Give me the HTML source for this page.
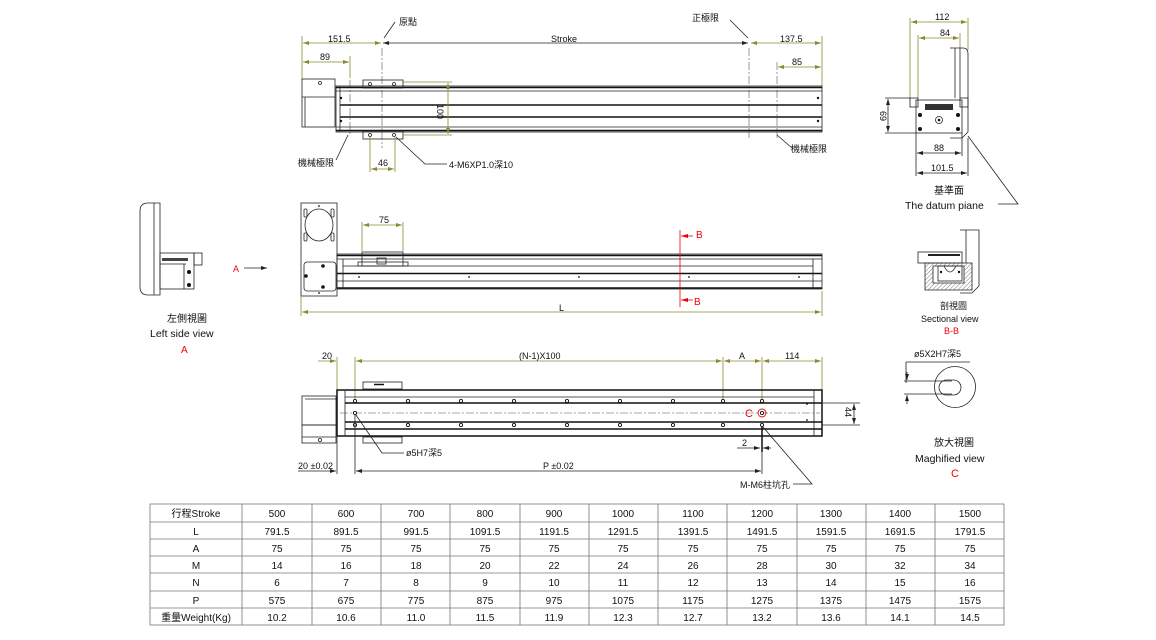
<!DOCTYPE html>
<html><head><meta charset="utf-8"><style>
html,body{margin:0;padding:0;background:#fff;}
svg{display:block;}
text{font-family:"Liberation Sans","Noto Sans CJK TC",sans-serif;font-size:9px;fill:#111;}
.d{stroke:#8a8a30;stroke-width:0.8;fill:none;}
.k{stroke:#222;stroke-width:0.8;fill:none;}
.kb{stroke:#111;stroke-width:1.5;fill:none;}
.c{stroke:#555;stroke-width:0.6;fill:none;stroke-dasharray:8 2 2 2;}
.r{fill:#e00;}
td{border:1px solid #777;}
</style></head><body>
<svg width="1156" height="640" viewBox="0 0 1156 640" xmlns="http://www.w3.org/2000/svg">
<defs>
<marker id="a" markerWidth="6" markerHeight="6" refX="6" refY="3" orient="auto-start-reverse" markerUnits="userSpaceOnUse"><path d="M0,1 L6,3 L0,5z" fill="#8a8a30"/></marker>
<marker id="ab" markerWidth="6" markerHeight="6" refX="6" refY="3" orient="auto-start-reverse" markerUnits="userSpaceOnUse"><path d="M0,1 L6,3 L0,5z" fill="#222"/></marker>
<marker id="ar" markerWidth="7" markerHeight="6" refX="7" refY="3" orient="auto" markerUnits="userSpaceOnUse"><path d="M0,1 L7,3 L0,5z" fill="#e00"/></marker>
<pattern id="h" width="3" height="3" patternUnits="userSpaceOnUse" patternTransform="rotate(45)"><line x1="0" y1="0" x2="0" y2="3" stroke="#444" stroke-width="0.7"/></pattern>
</defs>

<!-- ===== TOP VIEW ===== -->
<g>
<line class="d" x1="302" y1="36" x2="302" y2="80"/>
<line class="d" x1="822" y1="36" x2="822" y2="86"/>
<line class="d" x1="303" y1="43" x2="381" y2="43" marker-start="url(#a)" marker-end="url(#a)"/>
<line class="k" x1="383" y1="43" x2="748" y2="43" marker-start="url(#ab)" marker-end="url(#ab)"/>
<line class="d" x1="751" y1="43" x2="821" y2="43" marker-start="url(#a)" marker-end="url(#a)"/>
<text x="328" y="42">151.5</text><text x="551" y="42">Stroke</text><text x="780" y="42">137.5</text>
<line class="k" x1="384" y1="38" x2="395" y2="22"/><text x="399" y="25">原點</text>
<line class="k" x1="748" y1="38" x2="730" y2="20"/><text x="692" y="21">正極限</text>
<line class="d" x1="303" y1="62" x2="349" y2="62" marker-start="url(#a)" marker-end="url(#a)"/><text x="320" y="60">89</text>
<line class="d" x1="350" y1="56" x2="350" y2="78"/>
<line class="d" x1="778" y1="67" x2="821" y2="67" marker-start="url(#a)" marker-end="url(#a)"/><text x="792" y="65">85</text>
<line class="c" x1="382" y1="48" x2="382" y2="148"/>
<line class="c" x1="350" y1="80" x2="350" y2="135"/>
<line class="c" x1="749" y1="48" x2="749" y2="138"/>
<line class="c" x1="777" y1="62" x2="777" y2="138"/>
<!-- motor -->
<rect class="k" x="302" y="79" width="33" height="48"/>
<line class="k" x1="302" y1="97" x2="335" y2="97"/>
<line class="k" x1="305" y1="97" x2="305" y2="127"/>
<circle class="k" cx="320" cy="83" r="1.5"/>
<!-- rail -->
<rect class="k" x="336" y="86" width="486" height="46"/>
<line class="kb" x1="336" y1="87.5" x2="822" y2="87.5"/>
<line class="k" x1="336" y1="91" x2="822" y2="91"/>
<line class="kb" x1="340" y1="105" x2="822" y2="105"/>
<line class="kb" x1="340" y1="117" x2="822" y2="117"/>
<line class="k" x1="336" y1="127" x2="822" y2="127"/>
<line class="kb" x1="336" y1="130.5" x2="822" y2="130.5"/>
<line class="k" x1="340" y1="86" x2="340" y2="132"/>
<circle cx="341" cy="98" r="1.2" fill="#111"/><circle cx="341" cy="121" r="1.2" fill="#111"/>
<circle cx="818" cy="98" r="1.2" fill="#111"/><circle cx="818" cy="121" r="1.2" fill="#111"/>
<!-- carriage -->
<rect class="k" x="363" y="80" width="40" height="8"/>
<rect class="k" x="363" y="131" width="40" height="8"/>
<circle class="k" cx="370" cy="84" r="1.5"/><circle class="k" cx="394" cy="84" r="1.5"/>
<circle class="k" cx="370" cy="135" r="1.5"/><circle class="k" cx="394" cy="135" r="1.5"/>
<line class="d" x1="403" y1="82" x2="452" y2="82"/><line class="d" x1="403" y1="135" x2="452" y2="135"/>
<line class="d" x1="448" y1="83" x2="448" y2="134" marker-start="url(#a)" marker-end="url(#a)"/>
<text x="0" y="0" transform="translate(437,104) rotate(90)">100</text>
<line class="d" x1="370" y1="137" x2="370" y2="172"/><line class="d" x1="395" y1="137" x2="395" y2="172"/>
<line class="d" x1="371" y1="169" x2="394" y2="169" marker-start="url(#a)" marker-end="url(#a)"/><text x="378" y="166">46</text>
<polyline class="k" points="396,137 425,164 447,164"/><text x="449" y="168">4-M6XP1.0深10</text>
<line class="k" x1="348" y1="135" x2="336" y2="160"/><text x="298" y="166">機械極限</text>
<line class="k" x1="777" y1="135" x2="792" y2="148"/><text x="791" y="152">機械極限</text>
</g>

<!-- ===== RIGHT END VIEW ===== -->
<g>
<line class="d" x1="910" y1="18" x2="910" y2="100"/><line class="d" x1="968" y1="18" x2="968" y2="50"/>
<line class="d" x1="911" y1="22" x2="967" y2="22" marker-start="url(#a)" marker-end="url(#a)"/><text x="935" y="20">112</text>
<line class="d" x1="918" y1="35" x2="918" y2="98"/><line class="d" x1="960" y1="33" x2="960" y2="48"/>
<line class="d" x1="919" y1="38" x2="959" y2="38" marker-start="url(#a)" marker-end="url(#a)"/><text x="940" y="36">84</text>
<path class="k" d="M950,48 L963,48 Q968,48 968,54 L968,132 L962,138 L950,138"/>
<line class="k" x1="955" y1="48" x2="955" y2="98"/><line class="k" x1="960" y1="48" x2="960" y2="98"/>
<rect class="k" x="910" y="98" width="8" height="9"/>
<rect class="k" x="960" y="98" width="8" height="9"/>
<rect class="k" x="916" y="100" width="46" height="33"/>
<rect x="925" y="104" width="28" height="6" fill="#333"/>
<circle cx="920" cy="115" r="2" fill="#111"/><circle cx="958" cy="115" r="2" fill="#111"/>
<circle cx="920" cy="129" r="2" fill="#111"/><circle cx="958" cy="129" r="2" fill="#111"/>
<circle class="k" cx="939" cy="120" r="3.5"/><circle cx="939" cy="120" r="1.3" fill="#111"/>
<line class="k" x1="885" y1="98" x2="910" y2="98"/><line class="k" x1="885" y1="133" x2="916" y2="133"/>
<line class="k" x1="888" y1="99" x2="888" y2="132" marker-start="url(#ab)" marker-end="url(#ab)"/>
<text x="0" y="0" transform="translate(880,111) rotate(90)">69</text>
<line class="k" x1="916" y1="133" x2="916" y2="176"/><line class="k" x1="962" y1="133" x2="962" y2="156"/><line class="k" x1="968" y1="138" x2="968" y2="176"/>
<line class="k" x1="917" y1="153" x2="961" y2="153" marker-start="url(#ab)" marker-end="url(#ab)"/><text x="934" y="151">88</text>
<line class="k" x1="917" y1="173" x2="967" y2="173" marker-start="url(#ab)" marker-end="url(#ab)"/><text x="931" y="171">101.5</text>
<polyline class="k" points="968,136 1018,204 998,204"/>
<text x="934" y="194" style="font-size:10px">基準面</text>
<text x="905" y="209" style="font-size:10.5px">The datum piane</text>
</g>

<!-- ===== LEFT SIDE VIEW ===== -->
<g>
<path class="k" d="M160,203 L148,203 Q140,203 140,211 L140,287 Q140,295 148,295 L160,295 Z"/>
<line class="k" x1="154" y1="203" x2="154" y2="295"/>
<rect class="k" x="160" y="253" width="34" height="36"/>
<rect x="162" y="258" width="26" height="3" fill="#444"/>
<line class="k" x1="160" y1="264" x2="186" y2="264"/>
<line class="k" x1="184" y1="264" x2="184" y2="289"/>
<circle cx="189" cy="272" r="2" fill="#111"/><circle cx="189" cy="285" r="2" fill="#111"/>
<rect class="k" x="194" y="253" width="8" height="12"/>
<text x="233" y="272" class="r">A</text>
<line class="k" x1="244" y1="268" x2="267" y2="268" marker-end="url(#ab)"/>
<text x="167" y="322" style="font-size:10px">左側視圖</text>
<text x="150" y="337" style="font-size:10.5px">Left side view</text>
<text x="181" y="353" class="r" style="font-size:10px">A</text>
</g>

<!-- ===== MIDDLE (FRONT) VIEW ===== -->
<g>
<rect class="k" x="301" y="203" width="36" height="93"/>
<ellipse class="k" cx="319" cy="225" rx="14" ry="16"/>
<rect class="k" x="304" y="209" width="3" height="8" rx="1"/><rect class="k" x="331" y="209" width="3" height="8" rx="1"/>
<rect class="k" x="304" y="233" width="3" height="8" rx="1"/><rect class="k" x="331" y="233" width="3" height="8" rx="1"/>
<circle cx="319" cy="206" r="0.9" fill="#111"/>
<rect class="k" x="304" y="262" width="32" height="29" rx="3"/>
<circle cx="323" cy="266" r="1.8" fill="#111"/><circle cx="306" cy="276" r="1.8" fill="#111"/><circle cx="323" cy="287" r="1.8" fill="#111"/>
<circle cx="319" cy="293" r="0.9" fill="#111"/>
<rect class="k" x="337" y="254" width="485" height="35"/>
<line class="kb" x1="337" y1="255.5" x2="822" y2="255.5"/>
<line class="k" x1="337" y1="259" x2="822" y2="259"/>
<line class="k" x1="343" y1="266" x2="813" y2="266"/>
<line class="kb" x1="337" y1="273.5" x2="822" y2="273.5"/>
<line class="k" x1="337" y1="281" x2="822" y2="281"/>
<line class="kb" x1="337" y1="288" x2="822" y2="288"/>
<line class="k" x1="343" y1="259" x2="343" y2="288"/>
<line class="k" x1="813" y1="259" x2="813" y2="288"/>
<circle cx="359" cy="277" r="0.9" fill="#111"/><circle cx="469" cy="277" r="0.9" fill="#111"/><circle cx="579" cy="277" r="0.9" fill="#111"/><circle cx="689" cy="277" r="0.9" fill="#111"/><circle cx="799" cy="277" r="0.9" fill="#111"/>
<rect class="k" x="362" y="252" width="41" height="14"/>
<rect class="k" x="358" y="262" width="50" height="4"/>
<rect class="k" x="377" y="258" width="9" height="6"/>
<line class="d" x1="362" y1="222" x2="362" y2="251"/><line class="d" x1="403" y1="222" x2="403" y2="251"/>
<line class="d" x1="363" y1="225" x2="402" y2="225" marker-start="url(#a)" marker-end="url(#a)"/><text x="379" y="223">75</text>
<line x1="680" y1="230" x2="680" y2="307" stroke="#e00" stroke-width="0.8"/>
<line x1="693" y1="236" x2="681" y2="236" stroke="#e00" stroke-width="0.8" marker-end="url(#ar)"/>
<line x1="693" y1="300" x2="681" y2="300" stroke="#e00" stroke-width="0.8" marker-end="url(#ar)"/>
<text x="696" y="238" class="r" style="font-size:10px">B</text><text x="694" y="305" class="r" style="font-size:10px">B</text>
<line class="d" x1="301" y1="296" x2="301" y2="316"/><line class="d" x1="822" y1="291" x2="822" y2="316"/>
<line class="d" x1="302" y1="312" x2="821" y2="312" marker-start="url(#a)" marker-end="url(#a)"/><text x="559" y="311">L</text>
</g>

<!-- ===== SECTIONAL VIEW ===== -->
<g>
<path class="k" d="M960,230 L979,230 L979,286 L972,293 L960,293"/>
<line class="k" x1="966" y1="230" x2="966" y2="263"/>
<rect class="k" x="918" y="252" width="44" height="11"/>
<rect x="928" y="254" width="32" height="2" fill="#222"/>
<path d="M925,263 L972,263 L972,290 L925,290 Z M933,266 L933,283 L964,283 L964,266 Z" fill="url(#h)" fill-rule="evenodd" stroke="#222" stroke-width="0.8"/>
<rect class="k" x="938" y="266" width="24" height="15"/>
<path class="k" d="M944,266 Q950,278 956,266"/>
<circle cx="941" cy="272" r="1.2" fill="#111"/><circle cx="959" cy="272" r="1.2" fill="#111"/>
<text x="940" y="309" style="font-size:9px">剖視圖</text>
<text x="921" y="322" style="font-size:9px">Sectional view</text>
<text x="944" y="334" class="r" style="font-size:9px">B-B</text>
</g>

<!-- ===== BOTTOM VIEW ===== -->
<g>
<line class="d" x1="337" y1="357" x2="337" y2="390"/>
<line class="d" x1="355" y1="357" x2="355" y2="400"/>
<line class="d" x1="723" y1="357" x2="723" y2="400"/>
<line class="d" x1="762" y1="357" x2="762" y2="400"/>
<line class="d" x1="822" y1="357" x2="822" y2="390"/>
<line class="d" x1="318" y1="361" x2="336" y2="361" marker-end="url(#a)"/>
<line class="d" x1="356" y1="361" x2="722" y2="361" marker-start="url(#a)" marker-end="url(#a)"/>
<line class="d" x1="724" y1="361" x2="761" y2="361" marker-start="url(#a)" marker-end="url(#a)"/>
<line class="d" x1="763" y1="361" x2="821" y2="361" marker-start="url(#a)" marker-end="url(#a)"/>
<text x="322" y="359">20</text><text x="519" y="359">(N-1)X100</text><text x="739" y="359">A</text><text x="785" y="359">114</text>
<rect class="k" x="302" y="396" width="34" height="29"/>
<line class="k" x1="305" y1="399" x2="336" y2="399"/>
<rect class="k" x="302" y="425" width="34" height="18"/>
<line class="k" x1="302" y1="437" x2="336" y2="437"/>
<circle class="k" cx="320" cy="440" r="1.5"/>
<rect class="k" x="363" y="382" width="39" height="7"/>
<rect class="k" x="363" y="437" width="39" height="6"/>
<line class="kb" x1="374" y1="384.5" x2="384" y2="384.5"/>
<rect class="kb" x="337" y="390" width="485" height="46"/>
<line class="k" x1="345" y1="390" x2="345" y2="436"/>
<line class="k" x1="814" y1="390" x2="814" y2="436"/>
<line class="k" x1="345" y1="397" x2="814" y2="397"/>
<line class="kb" x1="345" y1="403" x2="822" y2="403"/>
<line class="kb" x1="345" y1="422" x2="822" y2="422"/>
<line class="kb" x1="345" y1="429" x2="822" y2="429"/>
<line class="c" x1="340" y1="413" x2="820" y2="413"/>
<g fill="#fff" stroke="#111" stroke-width="0.9">
<circle cx="355" cy="401" r="1.6"/><circle cx="408" cy="401" r="1.6"/><circle cx="461" cy="401" r="1.6"/><circle cx="514" cy="401" r="1.6"/><circle cx="567" cy="401" r="1.6"/><circle cx="620" cy="401" r="1.6"/><circle cx="673" cy="401" r="1.6"/><circle cx="723" cy="401" r="1.6"/><circle cx="762" cy="401" r="1.6"/>
<circle cx="355" cy="425" r="1.6"/><circle cx="408" cy="425" r="1.6"/><circle cx="461" cy="425" r="1.6"/><circle cx="514" cy="425" r="1.6"/><circle cx="567" cy="425" r="1.6"/><circle cx="620" cy="425" r="1.6"/><circle cx="673" cy="425" r="1.6"/><circle cx="723" cy="425" r="1.6"/><circle cx="762" cy="425" r="1.6"/>
<circle cx="355" cy="413" r="1.6"/><circle cx="762" cy="413" r="1.6"/>
</g>
<circle cx="807" cy="404" r="0.9" fill="#111"/><circle cx="807" cy="420" r="0.9" fill="#111"/>
<circle cx="762" cy="413" r="4" fill="none" stroke="#e00" stroke-width="0.9"/>
<text x="745" y="417" class="r" style="font-size:11px">C</text>
<line class="k" x1="822" y1="403" x2="860" y2="403"/><line class="k" x1="822" y1="425" x2="860" y2="425"/>
<line class="k" x1="854" y1="404" x2="854" y2="424" marker-start="url(#ab)" marker-end="url(#ab)"/>
<text x="0" y="0" transform="translate(845,407) rotate(90)">44</text>
<line class="kb" x1="762" y1="427" x2="762" y2="452"/>
<line class="k" x1="737" y1="448" x2="760" y2="448" marker-end="url(#ab)"/><line class="k" x1="771" y1="448" x2="763" y2="448" marker-end="url(#ab)"/>
<text x="742" y="446">2</text>
<line class="k" x1="337" y1="436" x2="337" y2="474"/>
<line class="k" x1="355" y1="415" x2="355" y2="474"/>
<line class="k" x1="762" y1="452" x2="762" y2="474"/>
<line class="k" x1="298" y1="471" x2="336" y2="471" marker-end="url(#ab)"/>
<line class="k" x1="356" y1="471" x2="761" y2="471" marker-start="url(#ab)" marker-end="url(#ab)"/>
<text x="298" y="469">20 ±0.02</text><text x="543" y="469">P ±0.02</text>
<polyline class="k" points="356,415 382,453 404,453"/><text x="406" y="456">ø5H7深5</text>
<polyline class="k" points="763,427 812,484 793,484"/><text x="740" y="488">M-M6柱坑孔</text>
</g>

<!-- ===== MAGNIFIED VIEW ===== -->
<g>
<text x="914" y="357">ø5X2H7深5</text>
<line class="k" x1="906" y1="362" x2="970" y2="362"/>
<line class="k" x1="906" y1="362" x2="906" y2="383"/>
<line class="k" x1="904" y1="381" x2="952" y2="381"/>
<line class="k" x1="904" y1="394" x2="952" y2="394"/>
<line class="k" x1="907" y1="372" x2="907" y2="380" marker-end="url(#ab)"/>
<line class="k" x1="907" y1="404" x2="907" y2="395" marker-end="url(#ab)"/>
<circle class="k" cx="955" cy="387" r="20.5"/>
<rect class="k" x="939" y="380" width="22" height="15" rx="7.5"/>
<text x="934" y="446" style="font-size:10px">放大視圖</text>
<text x="915" y="462" style="font-size:10.5px">Maghified view</text>
<text x="951" y="477" class="r" style="font-size:11px">C</text>
</g>

<!-- ===== TABLE ===== -->
<g stroke="#777" stroke-width="0.8" fill="none">
<rect x="150" y="504" width="854" height="121"/>
<line x1="150" y1="522" x2="1004" y2="522"/><line x1="150" y1="539" x2="1004" y2="539"/><line x1="150" y1="556" x2="1004" y2="556"/><line x1="150" y1="573" x2="1004" y2="573"/><line x1="150" y1="591" x2="1004" y2="591"/><line x1="150" y1="608" x2="1004" y2="608"/>
<line x1="242" y1="504" x2="242" y2="625"/><line x1="312" y1="504" x2="312" y2="625"/><line x1="381" y1="504" x2="381" y2="625"/><line x1="450" y1="504" x2="450" y2="625"/><line x1="520" y1="504" x2="520" y2="625"/><line x1="589" y1="504" x2="589" y2="625"/><line x1="658" y1="504" x2="658" y2="625"/><line x1="727" y1="504" x2="727" y2="625"/><line x1="797" y1="504" x2="797" y2="625"/><line x1="866" y1="504" x2="866" y2="625"/><line x1="935" y1="504" x2="935" y2="625"/>
</g>
<g text-anchor="middle" style="font-size:10px">
<text x="196" y="517" style="font-size:10px">行程Stroke</text><text x="196" y="535" style="font-size:10px">L</text><text x="196" y="552" style="font-size:10px">A</text><text x="196" y="569" style="font-size:10px">M</text><text x="196" y="586" style="font-size:10px">N</text><text x="196" y="604" style="font-size:10px">P</text><text x="196" y="621" style="font-size:10px">重量Weight(Kg)</text>
</g>
<g text-anchor="middle" id="cols">
<text x="277" y="517" style="font-size:10px">500</text><text x="277" y="535" style="font-size:10px">791.5</text><text x="277" y="552" style="font-size:10px">75</text><text x="277" y="569" style="font-size:10px">14</text><text x="277" y="586" style="font-size:10px">6</text><text x="277" y="604" style="font-size:10px">575</text><text x="277" y="621" style="font-size:10px">10.2</text>
<text x="346" y="517" style="font-size:10px">600</text><text x="346" y="535" style="font-size:10px">891.5</text><text x="346" y="552" style="font-size:10px">75</text><text x="346" y="569" style="font-size:10px">16</text><text x="346" y="586" style="font-size:10px">7</text><text x="346" y="604" style="font-size:10px">675</text><text x="346" y="621" style="font-size:10px">10.6</text>
<text x="416" y="517" style="font-size:10px">700</text><text x="416" y="535" style="font-size:10px">991.5</text><text x="416" y="552" style="font-size:10px">75</text><text x="416" y="569" style="font-size:10px">18</text><text x="416" y="586" style="font-size:10px">8</text><text x="416" y="604" style="font-size:10px">775</text><text x="416" y="621" style="font-size:10px">11.0</text>
<text x="485" y="517" style="font-size:10px">800</text><text x="485" y="535" style="font-size:10px">1091.5</text><text x="485" y="552" style="font-size:10px">75</text><text x="485" y="569" style="font-size:10px">20</text><text x="485" y="586" style="font-size:10px">9</text><text x="485" y="604" style="font-size:10px">875</text><text x="485" y="621" style="font-size:10px">11.5</text>
<text x="554" y="517" style="font-size:10px">900</text><text x="554" y="535" style="font-size:10px">1191.5</text><text x="554" y="552" style="font-size:10px">75</text><text x="554" y="569" style="font-size:10px">22</text><text x="554" y="586" style="font-size:10px">10</text><text x="554" y="604" style="font-size:10px">975</text><text x="554" y="621" style="font-size:10px">11.9</text>
<text x="623" y="517" style="font-size:10px">1000</text><text x="623" y="535" style="font-size:10px">1291.5</text><text x="623" y="552" style="font-size:10px">75</text><text x="623" y="569" style="font-size:10px">24</text><text x="623" y="586" style="font-size:10px">11</text><text x="623" y="604" style="font-size:10px">1075</text><text x="623" y="621" style="font-size:10px">12.3</text>
<text x="693" y="517" style="font-size:10px">1100</text><text x="693" y="535" style="font-size:10px">1391.5</text><text x="693" y="552" style="font-size:10px">75</text><text x="693" y="569" style="font-size:10px">26</text><text x="693" y="586" style="font-size:10px">12</text><text x="693" y="604" style="font-size:10px">1175</text><text x="693" y="621" style="font-size:10px">12.7</text>
<text x="762" y="517" style="font-size:10px">1200</text><text x="762" y="535" style="font-size:10px">1491.5</text><text x="762" y="552" style="font-size:10px">75</text><text x="762" y="569" style="font-size:10px">28</text><text x="762" y="586" style="font-size:10px">13</text><text x="762" y="604" style="font-size:10px">1275</text><text x="762" y="621" style="font-size:10px">13.2</text>
<text x="831" y="517" style="font-size:10px">1300</text><text x="831" y="535" style="font-size:10px">1591.5</text><text x="831" y="552" style="font-size:10px">75</text><text x="831" y="569" style="font-size:10px">30</text><text x="831" y="586" style="font-size:10px">14</text><text x="831" y="604" style="font-size:10px">1375</text><text x="831" y="621" style="font-size:10px">13.6</text>
<text x="900" y="517" style="font-size:10px">1400</text><text x="900" y="535" style="font-size:10px">1691.5</text><text x="900" y="552" style="font-size:10px">75</text><text x="900" y="569" style="font-size:10px">32</text><text x="900" y="586" style="font-size:10px">15</text><text x="900" y="604" style="font-size:10px">1475</text><text x="900" y="621" style="font-size:10px">14.1</text>
<text x="970" y="517" style="font-size:10px">1500</text><text x="970" y="535" style="font-size:10px">1791.5</text><text x="970" y="552" style="font-size:10px">75</text><text x="970" y="569" style="font-size:10px">34</text><text x="970" y="586" style="font-size:10px">16</text><text x="970" y="604" style="font-size:10px">1575</text><text x="970" y="621" style="font-size:10px">14.5</text>
</g>
</svg>
</body></html>
